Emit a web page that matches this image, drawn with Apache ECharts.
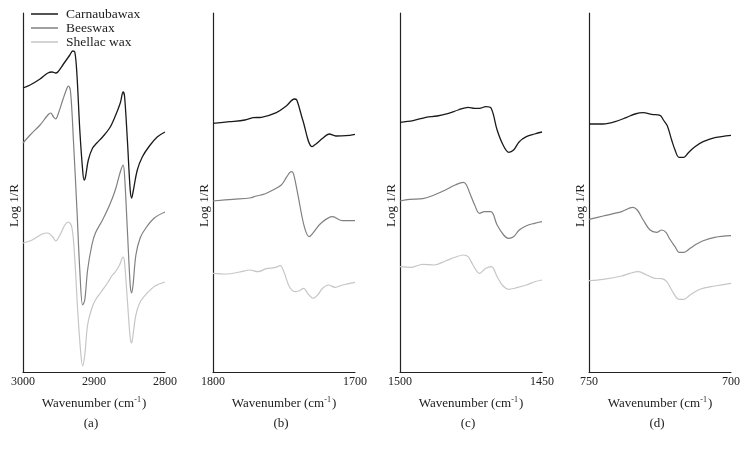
<!DOCTYPE html>
<html>
<head>
<meta charset="utf-8">
<script src="https://cdn.jsdelivr.net/npm/echarts@6/dist/echarts.min.js"></script>
<style>html,body{margin:0;padding:0;background:#fff}#c{width:746px;height:450px}</style>
</head>
<body>
<div id="c"></div>
<script>
// Series names
var seriesNames = ['Carnaubawax', 'Beeswax', 'Shellac wax'];
var panelLabels = ['(a)', '(b)', '(c)', '(d)'];
// x ranges (wavenumber, cm-1), axis drawn reversed
var xRanges = [[2800, 3000, 100], [1700, 1800, 100], [1450, 1500, 50], [700, 750, 50]];

// Panel (a) 3000-2800 cm-1  [wavenumber, log 1/R (arb. units)]
var aCarnauba = [[3000,284],[2990,287],[2976,293],[2965,299],[2959,300],[2954,299],[2951,300],[2943,308],[2934,317],[2930,321],[2927,320],[2924,297],[2920,242],[2916,202],[2914,192],[2912,195],[2908,212],[2902,224],[2896,229],[2888,235],[2878,244],[2870,256],[2863,269],[2859,280],[2857,276],[2853,232],[2849,182],[2847,174],[2845,180],[2839,202],[2832,215],[2822,226],[2811,235],[2800,240]];
var aBeeswax = [[3000,229],[2990,237],[2976,247],[2965,257],[2961,259],[2957,255],[2954,253],[2950,259],[2944,272],[2938,284],[2936,286],[2933,280],[2929,232],[2924,162],[2920,102],[2916,67],[2913,72],[2909,102],[2903,127],[2898,139],[2888,152],[2878,167],[2870,182],[2863,200],[2859,207],[2857,197],[2853,142],[2849,87],[2847,79],[2845,87],[2841,117],[2835,134],[2827,144],[2815,154],[2800,160]];
var aShellac = [[3000,129],[2987,132],[2973,138],[2965,139],[2958,135],[2954,131],[2948,137],[2941,147],[2936,150],[2931,144],[2927,112],[2923,62],[2919,22],[2916,6],[2913,17],[2909,47],[2903,64],[2898,72],[2890,80],[2881,89],[2874,97],[2870,100],[2864,107],[2859,115],[2857,110],[2853,72],[2849,34],[2847,29],[2845,37],[2841,57],[2835,70],[2825,79],[2814,86],[2800,90]];

// Panel (b) 1800-1700 cm-1
var bCarnauba = [[1800,248.7],[1788.3,250.3],[1777.6,252],[1771.8,254.3],[1765.9,254.7],[1755.4,259.3],[1748.4,266],[1742.7,273],[1741,272],[1736.8,252],[1730.2,225.3],[1727.5,228],[1722.8,233.7],[1718.2,238],[1713.5,236],[1706.5,236.3],[1700,237.7]];
var bBeeswax = [[1800,171],[1786,172.7],[1774.1,174],[1769.5,176],[1763.6,178],[1757.8,182],[1751.9,187],[1748,195.3],[1744.9,200.3],[1743.4,198.7],[1740.4,178.7],[1735.7,145.3],[1732.2,135.3],[1729.8,138.7],[1724,148.7],[1715.8,155.3],[1708.8,151.3],[1700,151.3]];
var bShellac = [[1800,98.7],[1790.4,98],[1781.1,100],[1774.1,102],[1768.3,100.3],[1762.4,103.3],[1756.6,104.3],[1752.7,106.3],[1749.7,98.7],[1746.2,85.3],[1742,80.3],[1739.2,81.3],[1736.1,83.7],[1733.4,78.7],[1729.4,73.7],[1726.3,77],[1722.8,83.7],[1718.6,87],[1714,84.7],[1708.8,87],[1700,89.7]];

// Panel (c) 1500-1450 cm-1
var cCarnauba = [[1500,249.7],[1495.4,251.3],[1490.9,254.7],[1486.9,256],[1482.9,258.7],[1479.5,262],[1476,264.7],[1473.7,263.7],[1472,263.7],[1469.8,265.3],[1467.9,263.7],[1465.8,242],[1463.7,227],[1461.7,219.7],[1460,222],[1458,230.3],[1455.5,235.3],[1452.6,238],[1450,240]];
var cBeeswax = [[1500,171],[1496.6,172.7],[1492,173.3],[1488,177],[1484,182],[1480.6,187],[1477.7,189.7],[1476.6,187],[1475.4,178.7],[1473.7,167],[1472,158.7],[1470.3,160.3],[1468,160.3],[1465.8,147],[1463.5,137],[1461.8,133.7],[1460,135.3],[1458,142],[1455.5,146.3],[1452.6,148.7],[1450,150.3]];
var cShellac = [[1500,105.3],[1496,104.7],[1492,107.7],[1488,107],[1484,111],[1480.6,114.7],[1477.7,117],[1476,115.3],[1474.3,107],[1472,98.7],[1469.8,103.7],[1467.8,105.3],[1465.8,95.3],[1463.7,86],[1461.7,82.7],[1458.9,84.3],[1455.5,87],[1452.6,90.3],[1450,92]];

// Panel (d) 750-700 cm-1
var dCarnauba = [[750,248],[745,248],[740.8,250.3],[736.7,254.7],[733.8,258],[730.9,259.3],[727.9,257.7],[725,256.7],[723.8,252],[722.4,246],[720.9,232],[719.7,222],[718.3,214.7],[716.6,214.7],[715,219.3],[712.7,225.3],[709.8,230.3],[705.7,234.3],[700,236.7]];
var dBeeswax = [[750,152.7],[745,156],[738.5,160.3],[734.6,164.7],[733,162],[730.9,152],[728.5,142],[726.2,139.7],[724.4,142],[722.9,139.7],[721.5,132.7],[719.7,125.3],[718.3,119.7],[716.6,119.7],[714.4,123.7],[712.1,128],[709.8,131.3],[705.7,134.7],[700,136.3]];
var dShellac = [[750,91.3],[745,92.7],[738.5,96],[735.6,98.7],[732.6,100.3],[729.7,97],[726.8,93.7],[724.4,93.3],[722.6,90.3],[720.9,82],[718.3,72.7],[716.6,72.7],[714.4,77],[710.9,82.7],[705.7,86],[700,88.7]];

var panelData = [
  [aCarnauba, aBeeswax, aShellac],
  [bCarnauba, bBeeswax, bShellac],
  [cCarnauba, cBeeswax, cShellac],
  [dCarnauba, dBeeswax, dShellac]
];

var FONT = '"Liberation Serif", "DejaVu Serif", serif';
var colors = ['#1a1a1a', '#808080', '#c6c6c6'];
var widths = [1.3, 1.2, 1.2];
var lefts = [23, 213, 400, 589];
var W = 142;

var grids = [], xAxes = [], yAxes = [], series = [], graphics = [];
for (var p = 0; p < 4; p++) {
  grids.push({ left: lefts[p], top: 13, width: W, height: 359 });
  xAxes.push({
    type: 'value', gridIndex: p, inverse: true,
    min: xRanges[p][0], max: xRanges[p][1], interval: xRanges[p][2],
    axisLine: { lineStyle: { color: '#222', width: 1.2 } },
    axisTick: { show: false },
    splitLine: { show: false },
    axisLabel: { color: '#222', fontFamily: FONT, fontSize: 12, margin: 4,
      formatter: function (v) { return String(v); } },
    name: 'Wavenumber (cm{sup|-1})', nameLocation: 'middle', nameGap: 24,
    nameTextStyle: { color: '#222', fontFamily: FONT, fontSize: 13,
      rich: { sup: { fontFamily: FONT, fontSize: 8, color: '#222', padding: [0, 1, 7, 0] } } }
  });
  yAxes.push({
    type: 'value', gridIndex: p, min: 0, max: 359,
    axisLine: { show: true, lineStyle: { color: '#222', width: 1.2 } },
    axisTick: { show: false }, axisLabel: { show: false }, splitLine: { show: false },
    name: 'Log 1/R', nameLocation: 'middle', nameGap: 2,
    nameTextStyle: { color: '#222', fontFamily: FONT, fontSize: 13, padding: [0, 26, 0, 0] }
  });
  for (var s = 0; s < 3; s++) {
    series.push({
      name: seriesNames[s], type: 'line', xAxisIndex: p, yAxisIndex: p,
      data: panelData[p][s], symbol: 'none', smooth: 0.35,
      lineStyle: { color: colors[s], width: widths[s] }, itemStyle: { color: colors[s] },
      silent: true, animation: false
    });
  }
  graphics.push({
    type: 'text', x: lefts[p] + W / 2 - 3, y: 424,
    style: { text: panelLabels[p], textAlign: 'center', textVerticalAlign: 'middle',
      font: '13px ' + FONT, fill: '#222' }
  });
}

var chart = echarts.init(document.getElementById('c'), null, { renderer: 'canvas' });
chart.setOption({
  backgroundColor: '#fff',
  animation: false,
  grid: grids, xAxis: xAxes, yAxis: yAxes, series: series,
  legend: {
    data: seriesNames, orient: 'vertical', left: 31, top: 7, padding: 0,
    icon: 'rect', itemWidth: 27, itemHeight: 1.5, itemGap: 0,
    textStyle: { fontFamily: FONT, fontSize: 13.5, color: '#222', lineHeight: 14, padding: [0, 0, 0, 3] }
  },
  graphic: graphics
});
</script>
</body>
</html>
